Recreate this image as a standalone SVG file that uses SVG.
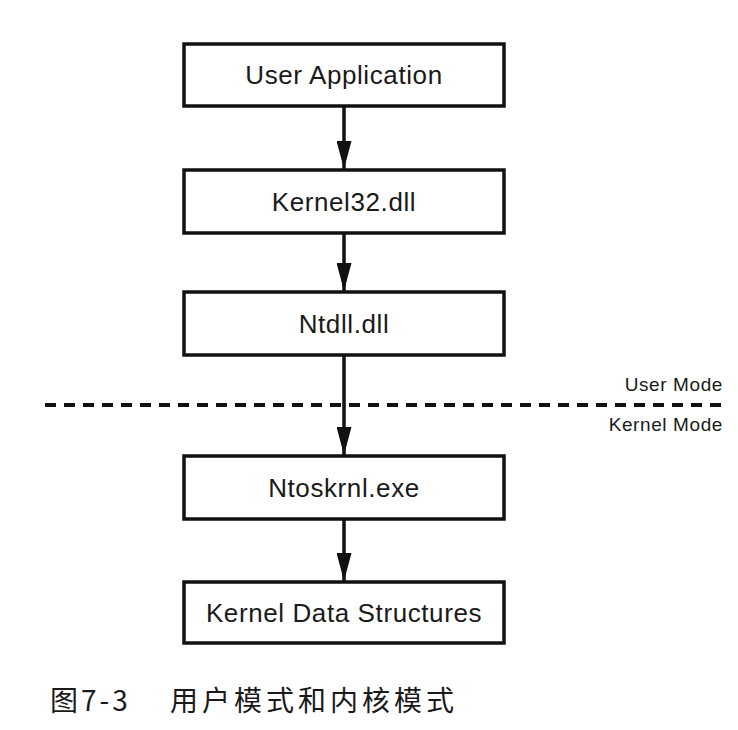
<svg xmlns="http://www.w3.org/2000/svg" width="738" height="730" viewBox="0 0 738 730">
<defs>
<style>
.box{fill:#fff;stroke:#111;stroke-width:3.5}
.lbl{font-family:"Liberation Sans","DejaVu Sans",sans-serif;font-size:26px;letter-spacing:0.6px;fill:#1a1a1a;text-anchor:middle}
.mode{font-family:"Liberation Sans","DejaVu Sans",sans-serif;font-size:19px;letter-spacing:0.6px;fill:#1a1a1a;text-anchor:end}
.conn{stroke:#111;stroke-width:3.5;fill:none}
.cap{font-family:"Noto Sans CJK SC","Noto Sans",sans-serif;font-size:28px;fill:#1a1a1a}
</style>
<marker id="ah" viewBox="0 0 10 10" refX="10" refY="5" markerWidth="28" markerHeight="15" markerUnits="userSpaceOnUse" orient="auto-start-reverse" preserveAspectRatio="none">
<path d="M0,0 L10,5 L0,10 Z" fill="#111"/>
</marker>
</defs>
<rect width="738" height="730" fill="#fff"/>
<g id="connectors">
<line class="conn" x1="344" y1="106" x2="344" y2="169" marker-end="url(#ah)"/>
<line class="conn" x1="344" y1="233" x2="344" y2="291" marker-end="url(#ah)"/>
<line class="conn" x1="344" y1="355" x2="344" y2="455" marker-end="url(#ah)"/>
<line class="conn" x1="344" y1="519" x2="344" y2="581" marker-end="url(#ah)"/>
</g>
<g id="divider">
<line x1="45" y1="405" x2="725" y2="405" stroke="#111" stroke-width="4" stroke-dasharray="11 8"/>
<text class="mode" x="723" y="391">User Mode</text>
<text class="mode" x="723" y="431">Kernel Mode</text>
</g>
<g id="n1"><rect class="box" x="184" y="44" width="320" height="62"/><text class="lbl" x="344" y="84">User Application</text></g>
<g id="n2"><rect class="box" x="184" y="170" width="320" height="63"/><text class="lbl" x="344" y="211">Kernel32.dll</text></g>
<g id="n3"><rect class="box" x="184" y="292" width="320" height="63"/><text class="lbl" x="344" y="333">Ntdll.dll</text></g>
<g id="n4"><rect class="box" x="184" y="456" width="320" height="63"/><text class="lbl" x="344" y="497">Ntoskrnl.exe</text></g>
<g id="n5"><rect class="box" x="184" y="582" width="320" height="61"/><text class="lbl" x="344" y="622">Kernel Data Structures</text></g>
<g id="caption">
<text class="cap" x="50" y="711" letter-spacing="3">图7-3</text>
<text class="cap" x="170" y="711" letter-spacing="4">用户模式和内核模式</text>
</g>
</svg>
